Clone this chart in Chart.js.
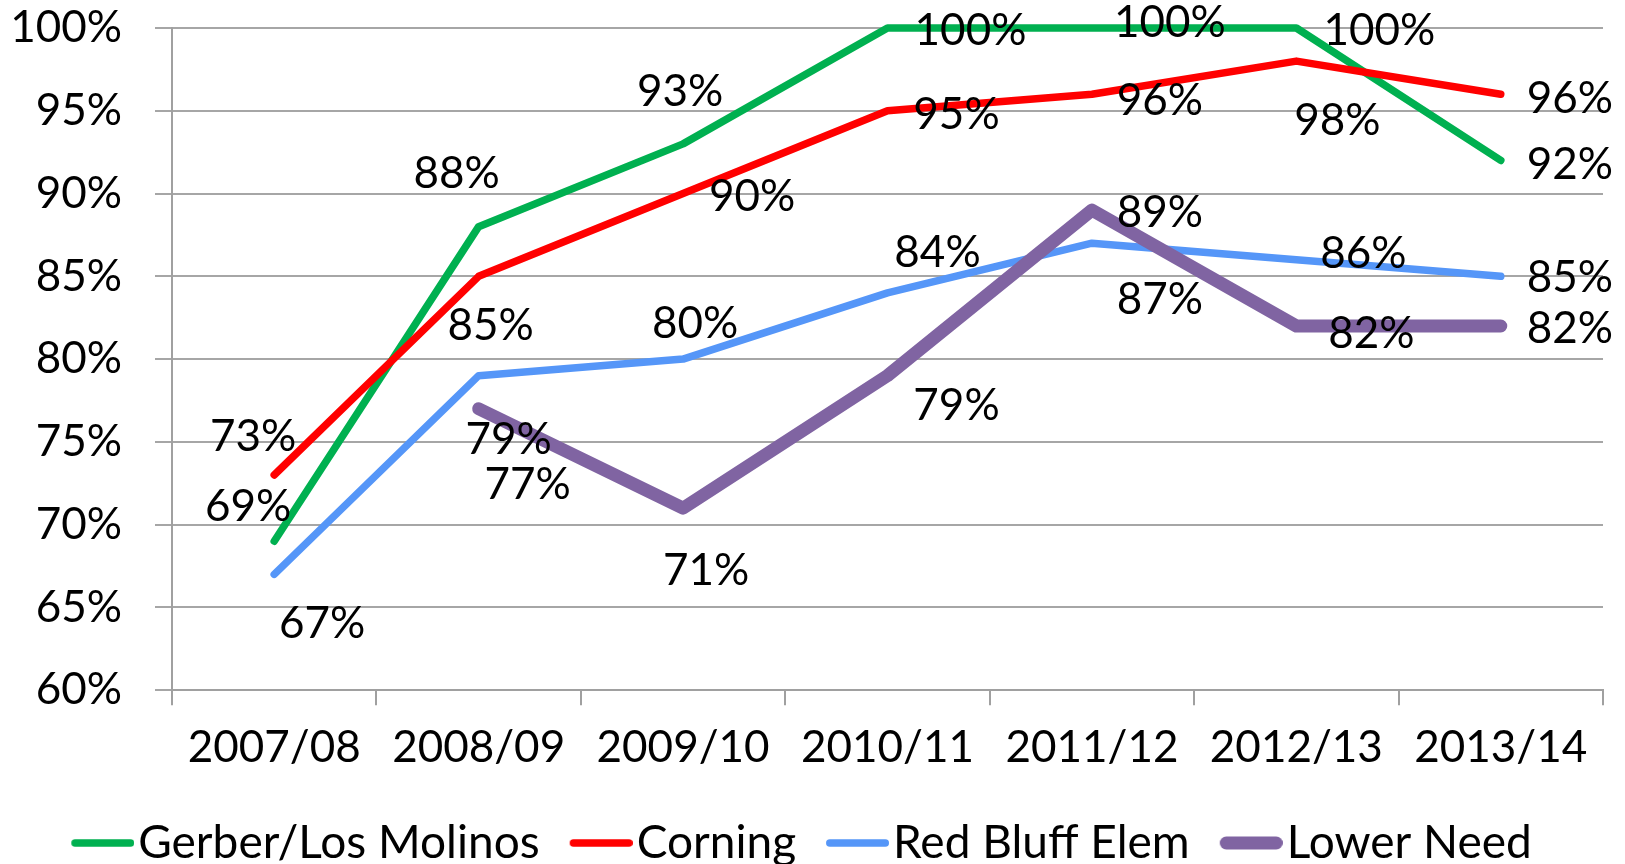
<!DOCTYPE html>
<html>
<head>
<meta charset="utf-8">
<script src="https://cdn.jsdelivr.net/npm/chart.js@4"></script>
<style>
  html, body { margin: 0; padding: 0; background: #fff; }
  #wrap { width: 1625px; height: 864px; }
</style>
</head>
<body>
<div id="wrap"><canvas id="chart"></canvas></div>
<script>
// school years on the x axis
var years = ['2007/08', '2008/09', '2009/10', '2010/11', '2011/12', '2012/13', '2013/14'];

// percentages per district
var gerberLosMolinos = [69, 88, 93, 100, 100, 100, 92];
var corning = [73, 85, 90, 95, 96, 98, 96];
var redBluffElem = [67, 79, 80, 84, 87, 86, 85];
var lowerNeed = [null, 77, 71, 79, 89, 82, 82];

var yMin = 60, yMax = 100, yStep = 5;

// where each value label sits relative to its point (px)
var gerberOffsets = [[-26, -34], [-22, -53], [-3, -52], [83, 3], [78, -5], [83, 3], [69, 4]];
var corningOffsets = [[-21, -38], [12, 49], [69, 3], [69, 4], [68, 7], [41, 60], [69, 5]];
var redBluffOffsets = [[48, 49], [30, 64], [12, -35], [50, -40], [68, 57], [67, -6], [69, 1]];
var lowerNeedOffsets = [null, [49, 76], [23, 63], [69, 30], [68, 3], [75, 8], [69, 3]];

var FONT = 'Lato';

// draws the "NN%" labels next to each point
const valueLabels = {
    id: 'valueLabels',
    afterDatasetsDraw(chart) {
        const ctx = chart.ctx;
        ctx.save();
        ctx.font = '44px ' + FONT;
        ctx.fillStyle = '#000';
        ctx.textAlign = 'center';
        ctx.textBaseline = 'middle';
        chart.data.datasets.forEach((ds, i) => {
            const meta = chart.getDatasetMeta(i);
            meta.data.forEach((pt, j) => {
                const v = ds.data[j];
                if (v == null) return;
                const off = ds.labelOffsets[j];
                ctx.fillText(v + '%', pt.x + off[0], pt.y + off[1]);
            });
        });
        ctx.restore();
    }
};

// legend sits a bit lower than chart.js puts it
const legendNudge = {
    id: 'legendNudge',
    afterLayout(chart) {
        chart.legend.top += 16;
        chart.legend.bottom += 16;
    }
};

// legend swatch: a short rounded line, left part padded so the text sits close
function swatch(color, width) {
    var c = document.createElement('canvas');
    c.width = 82;
    c.height = 20;
    var g = c.getContext('2d');
    g.strokeStyle = color;
    g.lineWidth = width;
    g.lineCap = 'round';
    g.beginPath();
    g.moveTo(19 + width / 2, 10);
    g.lineTo(82 - width / 2, 10);
    g.stroke();
    return c;
}

function lineSet(label, data, color, width, order, offsets) {
    return {
        label: label,
        data: data,
        borderColor: color,
        backgroundColor: color,
        borderWidth: width,
        borderCapStyle: 'round',
        borderJoinStyle: 'round',
        pointRadius: 0,
        pointHoverRadius: 0,
        pointStyle: swatch(color, width),
        tension: 0,
        spanGaps: false,
        clip: false,
        order: order,
        labelOffsets: offsets
    };
}

var ctx = document.getElementById('chart').getContext('2d');
var myChart = new Chart(ctx, {
    type: 'line',
    data: {
        labels: years,
        datasets: [
            lineSet('Gerber/Los Molinos', gerberLosMolinos, '#00B050', 7.5, 4, gerberOffsets),
            lineSet('Corning', corning, '#FF0000', 7.5, 3, corningOffsets),
            lineSet('Red Bluff Elem', redBluffElem, '#5596F8', 7.5, 2, redBluffOffsets),
            lineSet('Lower Need', lowerNeed, '#8064A2', 13, 1, lowerNeedOffsets)
        ]
    },
    options: {
        responsive: true,
        maintainAspectRatio: false,
        animation: false,
        devicePixelRatio: 1,
        layout: {
            padding: { left: 0, right: 22, top: 28, bottom: 4 }
        },
        scales: {
            x: {
                offset: true,
                afterFit: function (scale) { scale.height -= 16; },
                grid: {
                    display: true,
                    offset: true,
                    drawOnChartArea: false,
                    drawTicks: true,
                    tickLength: 15,
                    color: '#A0A0A0',
                    lineWidth: 2
                },
                border: { color: '#A0A0A0', width: 2 },
                ticks: {
                    font: { family: FONT, size: 44 },
                    color: '#000',
                    padding: 16,
                    maxRotation: 0,
                    autoSkip: false
                }
            },
            y: {
                min: yMin,
                max: yMax,
                afterFit: function (scale) {
                    scale.width = 172;
                    scale.paddingTop = 0;
                    scale.paddingBottom = 0;
                },
                grid: {
                    color: '#A6A6A6',
                    lineWidth: 2,
                    tickLength: 17
                },
                border: { color: '#A0A0A0', width: 2 },
                ticks: {
                    stepSize: yStep,
                    font: { family: FONT, size: 44 },
                    color: '#000',
                    padding: 33,
                    callback: function (v) { return v + '%'; }
                }
            }
        },
        plugins: {
            legend: {
                position: 'bottom',
                labels: {
                    usePointStyle: true,
                    pointStyleWidth: 44,
                    font: { family: FONT, size: 46 },
                    color: '#000',
                    padding: 30,
                    sort: function (a, b) { return a.datasetIndex - b.datasetIndex; }
                }
            },
            tooltip: { enabled: false }
        }
    },
    plugins: [valueLabels, legendNudge]
});
</script>
</body>
</html>
